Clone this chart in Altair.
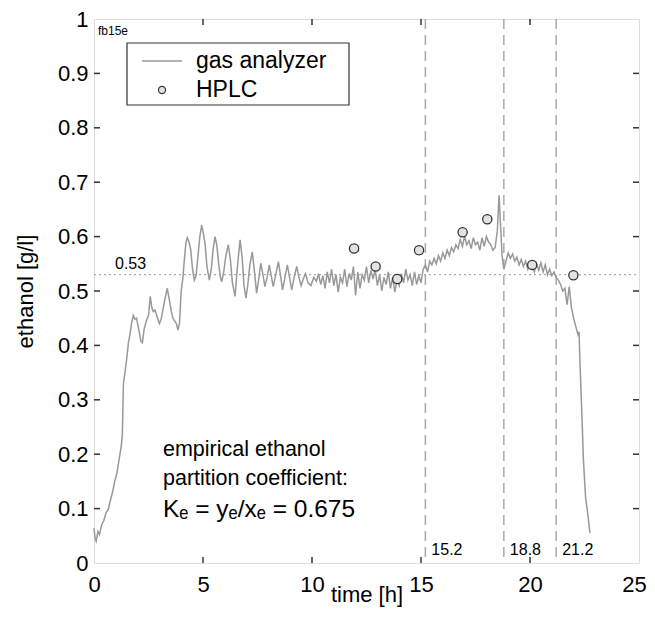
import altair as alt
import pandas as pd

# gas analyzer trace
t_gas = [0.00,0.05,0.10,0.18,0.25,0.35,0.45,0.55,0.65,0.75,0.85,0.95,1.05,1.15,1.25,1.30,1.35,1.42,1.50,1.58,
         1.65,1.72,1.80,1.88,1.95,2.05,2.15,2.22,2.30,2.40,2.50,2.58,2.65,2.72,2.80,2.90,3.00,3.08,3.18,3.28,
         3.36,3.45,3.55,3.62,3.70,3.78,3.85,3.92,4.00,4.08,4.15,4.22,4.28,4.36,4.44,4.52,4.60,4.68,4.76,4.85,
         4.94,5.02,5.10,5.18,5.29,5.38,5.46,5.55,5.63,5.72,5.80,5.86,5.95,6.05,6.16,6.25,6.35,6.47,6.58,6.70,
         6.80,6.88,6.97,7.05,7.15,7.26,7.35,7.46,7.55,7.65,7.75,7.84,7.94,8.04,8.12,8.22,8.34,8.46,8.55,8.65,
         8.76,8.87,8.97,9.07,9.18,9.30,9.40,9.50,9.60,9.70,9.82,9.95,10.08,10.20,10.30,10.40,10.50,10.60,10.70,10.80,
         10.90,11.00,11.10,11.20,11.30,11.40,11.50,11.60,11.70,11.80,11.90,12.00,12.10,12.20,12.30,12.40,12.50,12.60,12.70,12.80,
         12.90,13.00,13.10,13.20,13.30,13.40,13.50,13.60,13.70,13.80,13.90,14.00,14.10,14.20,14.30,14.40,14.50,14.60,14.70,14.80,
         14.90,15.00,15.10,15.20,15.30,15.40,15.50,15.60,15.70,15.80,15.90,16.00,16.10,16.20,16.30,16.40,16.50,16.60,16.70,16.80,
         16.90,17.00,17.10,17.20,17.30,17.40,17.50,17.60,17.70,17.80,17.90,18.00,18.10,18.20,18.30,18.40,18.50,18.58,18.65,18.72,
         18.80,18.90,19.00,19.10,19.20,19.30,19.40,19.50,19.60,19.70,19.80,19.90,20.00,20.10,20.20,20.30,20.40,20.50,20.60,20.70,
         20.80,20.90,21.00,21.10,21.20,21.30,21.40,21.50,21.60,21.70,21.80,21.90,22.00,22.10,22.20,22.25,22.30,22.40,22.45,22.55,
         22.62,22.68,22.75]
v_gas = [0.064,0.045,0.040,0.058,0.052,0.070,0.078,0.092,0.098,0.115,0.130,0.150,0.165,0.190,0.215,0.235,0.330,0.350,0.375,0.405,
         0.420,0.440,0.455,0.448,0.450,0.430,0.408,0.405,0.430,0.445,0.455,0.490,0.470,0.462,0.465,0.452,0.440,0.448,0.470,0.490,
         0.505,0.485,0.462,0.450,0.445,0.440,0.428,0.440,0.500,0.525,0.560,0.590,0.598,0.590,0.575,0.540,0.520,0.528,0.560,0.598,
         0.621,0.605,0.585,0.545,0.520,0.540,0.575,0.600,0.585,0.550,0.525,0.517,0.535,0.565,0.585,0.560,0.515,0.490,0.545,0.594,
         0.560,0.510,0.487,0.510,0.548,0.572,0.540,0.496,0.520,0.551,0.530,0.508,0.525,0.548,0.530,0.508,0.530,0.554,0.530,0.502,
         0.525,0.548,0.525,0.502,0.525,0.545,0.525,0.510,0.522,0.532,0.515,0.510,0.525,0.518,0.532,0.512,0.528,0.505,0.535,0.515,
         0.540,0.510,0.530,0.498,0.525,0.515,0.540,0.508,0.532,0.520,0.545,0.492,0.535,0.505,0.530,0.520,0.545,0.515,0.538,0.522,
         0.540,0.510,0.530,0.500,0.525,0.512,0.535,0.505,0.525,0.498,0.520,0.510,0.532,0.515,0.540,0.520,0.530,0.510,0.535,0.512,
         0.528,0.515,0.540,0.548,0.535,0.555,0.548,0.560,0.550,0.565,0.555,0.570,0.560,0.575,0.565,0.580,0.572,0.585,0.578,0.595,
         0.582,0.600,0.585,0.592,0.578,0.598,0.585,0.590,0.575,0.598,0.582,0.600,0.590,0.585,0.575,0.580,0.610,0.676,0.620,0.565,
         0.540,0.555,0.570,0.560,0.568,0.555,0.562,0.548,0.558,0.545,0.555,0.540,0.552,0.545,0.535,0.550,0.538,0.552,0.535,0.548,
         0.530,0.540,0.528,0.535,0.525,0.520,0.512,0.500,0.505,0.475,0.508,0.470,0.450,0.435,0.420,0.425,0.360,0.250,0.190,0.120,
         0.100,0.080,0.055]

# HPLC samples
t_hplc = [11.93, 12.92, 13.91, 14.91, 16.91, 18.04, 20.10, 21.99]
v_hplc = [0.578, 0.545, 0.522, 0.575, 0.608, 0.632, 0.548, 0.529]

# phase boundaries and mean level
t_marks = [15.2, 18.8, 21.2]
mark_labels = ["15.2", "18.8", "21.2"]
mean_level = [0.53]

x_ticks = [0, 5, 10, 15, 20, 25]
y_ticks = [0, 0.1, 0.2, 0.3, 0.4, 0.5, 0.6, 0.7, 0.8, 0.9, 1]

FONT = "Liberation Sans"
W, H = 545, 544

xs = alt.Scale(domain=[0, 25], nice=False, zero=False)
ys = alt.Scale(domain=[0, 1], nice=False, zero=False)

gas_df = pd.DataFrame({"t": t_gas, "v": v_gas})
hplc_df = pd.DataFrame({"t": t_hplc, "v": v_hplc})
marks_df = pd.DataFrame({"t": t_marks, "lab": mark_labels})
mean_df = pd.DataFrame({"v": mean_level, "lab": [f"{mean_level[0]:.2f}"]})
one = pd.DataFrame({"a": [0]})

xaxis = alt.Axis(values=x_ticks, title="time [h]", grid=False, ticks=False, domain=False,
                 labelFontSize=22, labelFont=FONT, labelColor="#000", labelPadding=11,
                 labelFlush=False, labelOverlap=False, titleFont=FONT, titleFontSize=22,
                 titleFontWeight="normal", titleColor="#000", titleY=38,
                 titleBaseline="alphabetic",
                 labelOffset={"condition": {"test": "datum.value == 25", "value": -5}, "value": 0})
yaxis = alt.Axis(values=y_ticks, title="ethanol [g/l]", grid=False, ticks=False, domain=False,
                 labelFontSize=22, labelFont=FONT, labelColor="#000", labelPadding=6,
                 labelFlush=False, labelOverlap=False, titleFont=FONT, titleFontSize=22,
                 titleFontWeight="normal", titleColor="#000", titleX=-57, titleY=H / 2,
                 titleAngle=-90, titleBaseline="bottom", titleAlign="center",
                 format="~g")

vlines = alt.Chart(marks_df).mark_rule(color="#aaaaaa", strokeWidth=1.5, strokeDash=[10, 6]).encode(
    x=alt.X("t:Q", scale=xs, axis=xaxis), y=alt.value(0), y2=alt.value(H))
vlabels = alt.Chart(marks_df).mark_text(font=FONT, fontSize=16, align="left", dx=6, baseline="alphabetic",
                                         color="#000").encode(
    x=alt.X("t:Q", scale=xs), y=alt.value(536), text="lab:N")

hline = alt.Chart(mean_df).mark_rule(color="#aaaaaa", strokeWidth=1.3, strokeDash=[2, 3]).encode(
    y=alt.Y("v:Q", scale=ys, axis=yaxis), x=alt.value(0), x2=alt.value(W))
hlabel = alt.Chart(mean_df).mark_text(font=FONT, fontSize=16, align="left", baseline="alphabetic",
                                      dy=-6, color="#000").encode(
    y=alt.Y("v:Q", scale=ys), x=alt.value(21), text="lab:N")

gas = alt.Chart(gas_df).mark_line(color="#999999", strokeWidth=1.5).encode(
    x=alt.X("t:Q", scale=xs), y=alt.Y("v:Q", scale=ys))
hplc = alt.Chart(hplc_df).mark_point(shape="circle", filled=True, fill="#e2e2e2", stroke="#333333",
                                     strokeWidth=1.3, size=85, opacity=1).encode(
    x=alt.X("t:Q", scale=xs), y=alt.Y("v:Q", scale=ys))

# inward ticks on all four sides
inner_x = pd.DataFrame({"t": x_ticks[1:-1]})
inner_y = pd.DataFrame({"v": y_ticks[1:-1]})
tk = dict(color="#333333", strokeWidth=1.5)
tick_b = alt.Chart(inner_x).mark_rule(**tk).encode(x=alt.X("t:Q", scale=xs), y=alt.value(H), y2=alt.value(H - 6))
tick_t = alt.Chart(inner_x).mark_rule(**tk).encode(x=alt.X("t:Q", scale=xs), y=alt.value(0), y2=alt.value(6))
tick_l = alt.Chart(inner_y).mark_rule(**tk).encode(y=alt.Y("v:Q", scale=ys), x=alt.value(0), x2=alt.value(6))
tick_r = alt.Chart(inner_y).mark_rule(**tk).encode(y=alt.Y("v:Q", scale=ys), x=alt.value(W), x2=alt.value(W - 6))

tag = alt.Chart(one).mark_text(text="fb15e", font=FONT, fontSize=12, align="left", baseline="alphabetic",
                               color="#000").encode(x=alt.value(4), y=alt.value(16))

# legend box
leg_box = alt.Chart(one).mark_rect(fill="white", stroke="#333333", strokeWidth=1.2).encode(
    x=alt.value(33), x2=alt.value(255), y=alt.value(24), y2=alt.value(86))
leg_line = alt.Chart(one).mark_rule(color="#999999", strokeWidth=1.5).encode(
    x=alt.value(48), x2=alt.value(88), y=alt.value(42))
leg_pt = alt.Chart(one).mark_point(shape="circle", filled=True, fill="#e2e2e2", stroke="#333333",
                                   strokeWidth=1.2, size=50, opacity=1).encode(x=alt.value(68), y=alt.value(71))
leg_t1 = alt.Chart(one).mark_text(text="gas analyzer", font=FONT, fontSize=23, align="left", baseline="middle",
                                  color="#000").encode(x=alt.value(102), y=alt.value(42))
leg_t2 = alt.Chart(one).mark_text(text="HPLC", font=FONT, fontSize=23, align="left", baseline="middle",
                                  color="#000").encode(x=alt.value(102), y=alt.value(71))

# annotation
ann1 = alt.Chart(one).mark_text(text="empirical ethanol", font=FONT, fontSize=21.5, align="left",
                                baseline="alphabetic", color="#000").encode(x=alt.value(69), y=alt.value(437))
ann2 = alt.Chart(one).mark_text(text="partition coefficient:", font=FONT, fontSize=21.5, align="left",
                                baseline="alphabetic", color="#000").encode(x=alt.value(69), y=alt.value(466))
ann3 = alt.Chart(one).mark_text(text="K\u2091 = y\u2091/x\u2091 = 0.675", font=FONT, fontSize=24.5, align="left",
                                baseline="alphabetic", color="#000").encode(x=alt.value(69), y=alt.value(498))

chart = alt.layer(
    vlines, vlabels, hline, hlabel, gas, hplc, tick_b, tick_t, tick_l, tick_r, tag,
    leg_box, leg_line, leg_pt, leg_t1, leg_t2, ann1, ann2, ann3
).properties(
    width=W, height=H,
    autosize=alt.AutoSizeParams(type="none"),
    padding={"left": 86, "top": 11, "right": 8, "bottom": 44},
).configure_view(stroke="#333333", strokeWidth=2).configure(background="white")

chart.save("out.html", embed_options={"renderer": "svg", "actions": False})
